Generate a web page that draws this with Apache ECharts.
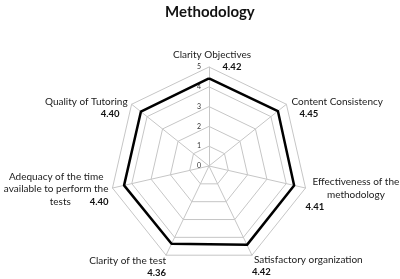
<!DOCTYPE html>
<html>
<head>
<meta charset="utf-8">
<script src="https://cdn.jsdelivr.net/npm/echarts@6/dist/echarts.min.js"></script>
<style>
  html, body { margin: 0; padding: 0; background: #fff; }
  #chart { width: 400px; height: 279px; }
</style>
</head>
<body>
<div id="chart"></div>
<script>
// clockwise order as in the picture, starting at the top
const criteria = [
  'Clarity Objectives',
  'Content Consistency',
  'Effectiveness of the\nmethodology',
  'Satisfactory organization',
  'Clarity of the test',
  'Adequacy of the time\navailable to perform the\ntests',
  'Quality of Tutoring'
]
const scores = [4.42, 4.45, 4.41, 4.42, 4.36, 4.40, 4.40]
const scaleMax = 5

// where each name sits around its corner (excel put them by hand)
const nameLayout = [
  { align: 'center', padding: [0, 0, 12, 6], line: 'n', value: 'vTop' },
  { align: 'left', padding: [7, 0, 0, 5], line: 'n', value: 'vIndent' },
  { align: 'left', padding: [13, 0, 0, 0], line: 'c', value: 'vLeft' },
  { align: 'left', padding: [21, 0, 0, 0], line: 'nPad', value: 'vLeft' },
  { align: 'right', padding: [23, 0, 0, 0], line: 'n', value: 'v' },
  { align: 'right', padding: [2, 4, 0, 0], line: 'c', value: 'vRight', inline: true },
  { align: 'right', padding: [7, 4, 0, 0], line: 'n', value: 'vBack' }
]

// echarts walks the radar counter-clockwise, so flip everything after the first
const order = [0, 6, 5, 4, 3, 2, 1]

const chart = echarts.init(document.getElementById('chart'))

const indicators = order.map((i) => ({
  name: criteria[i],
  min: 0,
  max: scaleMax,
  nameGap: 0,
  nameMoveOverlap: false,
  nameTextStyle: {
    align: nameLayout[i].align,
    verticalAlign: 'middle',
    padding: nameLayout[i].padding
  },
  axisLabel: { show: i === 0 }
}))

function nameText(name) {
  const i = criteria.indexOf(name)
  const lay = nameLayout[i]
  const lines = name.split('\n')
  const val = '{' + lay.value + '|' + scores[i].toFixed(2) + '}'
  if (lay.inline) {
    const last = lines.pop()
    return lines.map((s) => '{' + lay.line + '|' + s + '}').join('\n') +
      '\n{t|' + last + '}' + val
  }
  return lines.map((s) => '{' + lay.line + '|' + s + '}').join('\n') + '\n' + val
}

const nameFont = { fontFamily: 'Lato', fontSize: 10, color: '#1a1a1a', lineHeight: 12.5 }
const valueFont = { fontFamily: 'Lato', fontSize: 9.5, fontWeight: 'bold', color: '#111', lineHeight: 12.5 }

chart.setOption({
  animation: false,
  title: {
    text: 'Methodology',
    left: 160,
    top: 0,
    textStyle: { fontFamily: 'Lato', fontSize: 15, fontWeight: 'bold', color: '#111' }
  },
  radar: {
    center: [209, 166],
    radius: 99,
    shape: 'polygon',
    splitNumber: 5,
    axisNameGap: 0,
    indicator: indicators,
    axisName: {
      fontFamily: 'Lato',
      color: '#1a1a1a',
      formatter: nameText,
      rich: {
        n: nameFont,
        nPad: Object.assign({ padding: [0, 0, 0, 2] }, nameFont),
        c: Object.assign({ align: 'center', padding: [0, 0, 0, 7] }, nameFont),
        t: Object.assign({ align: 'center', padding: [0, 0, 0, 34] }, nameFont),
        v: valueFont,
        vTop: Object.assign({ padding: [0, 0, 0, 40] }, valueFont),
        vIndent: Object.assign({ align: 'left', padding: [0, 0, 0, 8] }, valueFont),
        vLeft: Object.assign({ align: 'left' }, valueFont),
        vRight: Object.assign({ align: 'right' }, valueFont),
        vBack: Object.assign({ align: 'right', padding: [0, 8, 0, 0] }, valueFont)
      }
    },
    axisLine: { lineStyle: { color: '#c6c6c6', width: 1 } },
    splitLine: { lineStyle: { color: '#c6c6c6', width: 1 } },
    splitArea: { show: false },
    axisTick: { show: false },
    axisLabel: { show: false, fontFamily: 'Lato', fontSize: 7, color: '#333', margin: 8 }
  },
  series: [{
    type: 'radar',
    symbol: 'none',
    lineStyle: { color: '#000', width: 2.5 },
    data: [{ value: order.map((i) => scores[i]), name: 'Methodology' }]
  }]
})
</script>
</body>
</html>
